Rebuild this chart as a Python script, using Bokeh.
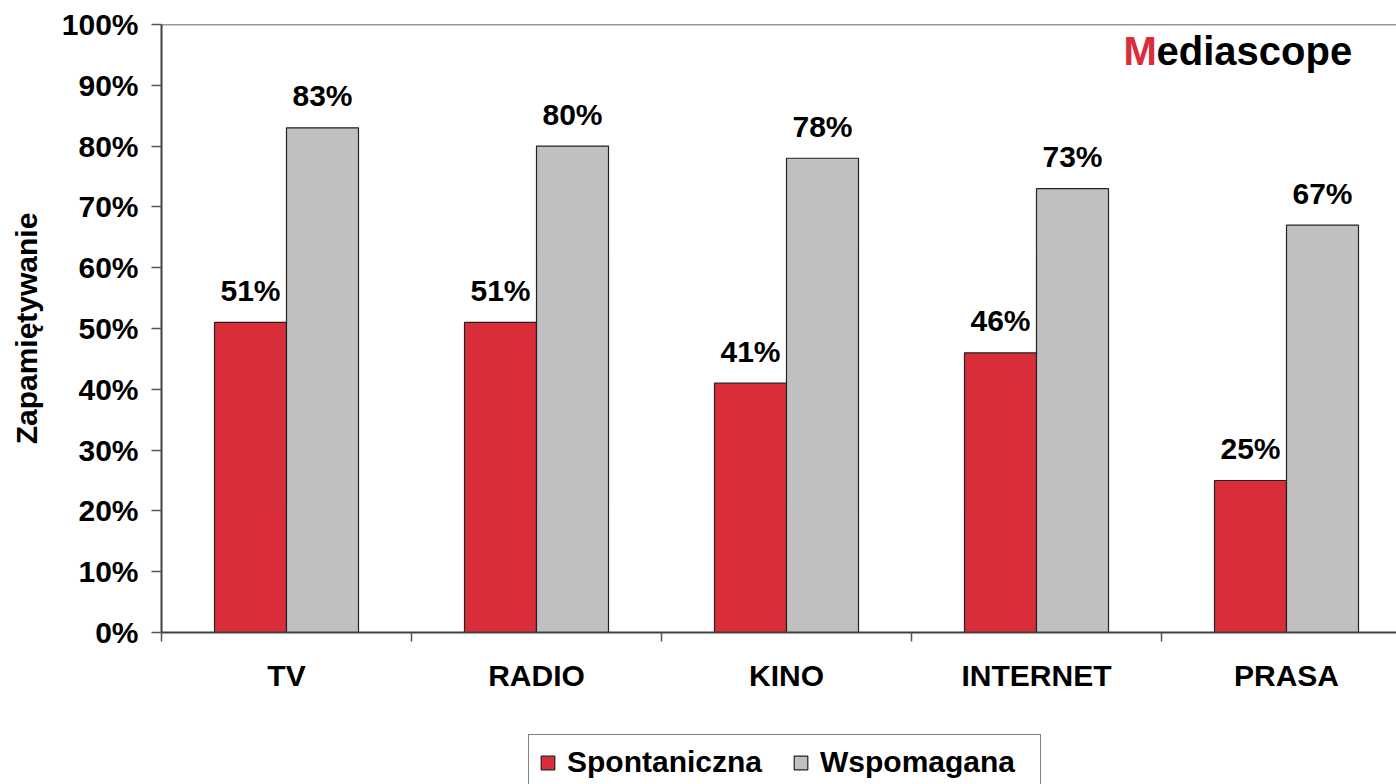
from bokeh.plotting import figure
from bokeh.layouts import column
from bokeh.models import (Range1d, FixedTicker, PrintfTickFormatter, Legend, LegendItem,
                          Span, Label, ColumnDataSource)
from bokeh.core.properties import value
from bokeh.embed import file_html
from bokeh.resources import INLINE

categories = ["TV", "RADIO", "KINO", "INTERNET", "PRASA"]
spontaniczna = [51, 51, 41, 46, 25]
wspomagana = [83, 80, 78, 73, 67]
y_ticks = list(range(0, 101, 10))
series_names = ["Spontaniczna", "Wspomagana"]

FONT = "Liberation Sans"
RED = "#D92D3A"
GRAY = "#C0C0C0"

centers = [i + 0.5 for i in range(len(categories))]
bar_w = 0.288

src_s = ColumnDataSource(dict(x=[c - bar_w / 2 for c in centers], top=spontaniczna,
                              label=[f"{v}%" for v in spontaniczna]))
src_w = ColumnDataSource(dict(x=[c + bar_w / 2 for c in centers], top=wspomagana,
                              label=[f"{v}%" for v in wspomagana]))

p = figure(width=1396, height=734, output_backend="svg", toolbar_location=None,
           x_range=Range1d(0, 4.94), y_range=Range1d(0, 100),
           min_border_left=161, min_border_right=0, min_border_top=24, min_border_bottom=102)
p.outline_line_color = None
p.xgrid.visible = False
p.ygrid.visible = False
p.background_fill_color = "white"
p.border_fill_color = "white"

bar_style = dict(line_color="#222222", line_width=1.2)
r_s = p.vbar(x="x", top="top", width=bar_w, source=src_s, fill_color=RED, **bar_style)
r_w = p.vbar(x="x", top="top", width=bar_w, source=src_w, fill_color=GRAY, **bar_style)

for src in (src_s, src_w):
    p.text(x="x", y="top", text="label", source=src, text_align="center",
           text_baseline="alphabetic", y_offset=-32, text_font=value(FONT),
           text_font_style="bold", text_font_size="30px", text_color="black")

# top border line
p.add_layout(Span(location=100, dimension="width", line_color="#333333", line_width=1.5))

# axes
xa = p.xaxis[0]
xa.ticker = FixedTicker(ticks=centers, minor_ticks=list(range(0, len(categories) + 1)))
xa.major_label_overrides = {c: name for c, name in zip(centers, categories)}
xa.major_tick_out = 0
xa.major_tick_in = 0
xa.minor_tick_out = 9
xa.minor_tick_in = 0
xa.minor_tick_line_color = "#555555"
xa.minor_tick_line_width = 1.5
xa.axis_line_color = "#404040"
xa.axis_line_width = 2
xa.major_label_standoff = 17
xa.major_label_text_font = FONT
xa.major_label_text_font_style = "bold"
xa.major_label_text_font_size = "30px"
xa.major_label_text_color = "black"

ya = p.yaxis[0]
ya.ticker = FixedTicker(ticks=y_ticks, minor_ticks=[])
ya.formatter = PrintfTickFormatter(format="%d%%")
ya.major_tick_out = 10
ya.major_tick_in = 0
ya.major_tick_line_color = "#555555"
ya.major_tick_line_width = 1.5
ya.axis_line_color = "#404040"
ya.axis_line_width = 2
ya.major_label_standoff = 13
ya.major_label_text_font = FONT
ya.major_label_text_font_style = "bold"
ya.major_label_text_font_size = "30px"
ya.major_label_text_color = "black"
ya.axis_label = "Zapamiętywanie"
ya.axis_label_text_font = FONT
ya.axis_label_text_font_style = "bold"
ya.axis_label_text_font_size = "30px"
ya.axis_label_text_color = "black"
ya.axis_label_standoff = 16

# logo
p.add_layout(Label(x=3.848, y=95.6, text="M", text_color=RED, text_font=FONT,
                   text_font_style="bold", text_font_size="40px", text_align="left",
                   text_baseline="alphabetic"))
p.add_layout(Label(x=3.848, y=95.6, x_offset=33, text="ediascope", text_color="black",
                   text_font=FONT, text_font_style="bold", text_font_size="40px",
                   text_align="left", text_baseline="alphabetic"))

# legend strip below the chart (its bars are outside the visible y range)
pl = figure(width=1396, height=50, output_backend="svg", toolbar_location=None,
            x_range=Range1d(0, 4.94), y_range=Range1d(1000, 1001),
            x_axis_type=None, y_axis_type=None,
            min_border_left=0, min_border_right=0, min_border_top=0, min_border_bottom=0)
pl.outline_line_color = None
pl.xgrid.visible = False
pl.ygrid.visible = False
l_s = pl.vbar(x="x", top="top", width=bar_w, source=src_s, fill_color=RED, **bar_style)
l_w = pl.vbar(x="x", top="top", width=bar_w, source=src_w, fill_color=GRAY, **bar_style)

legend = Legend(items=[LegendItem(label=series_names[0], renderers=[l_s]),
                       LegendItem(label=series_names[1], renderers=[l_w])],
                orientation="horizontal", location=(367, -6),
                glyph_width=17, glyph_height=17, label_standoff=11, spacing=15,
                label_width=210, padding=10, margin=0,
                border_line_color="black", border_line_width=1.5,
                background_fill_color="white", background_fill_alpha=1.0,
                label_text_font=FONT, label_text_font_style="bold",
                label_text_font_size="30px", label_text_color="black")
pl.add_layout(legend, "center")

layout = column(p, pl, spacing=0)
open("out.html", "w").write(file_html(layout, INLINE))
